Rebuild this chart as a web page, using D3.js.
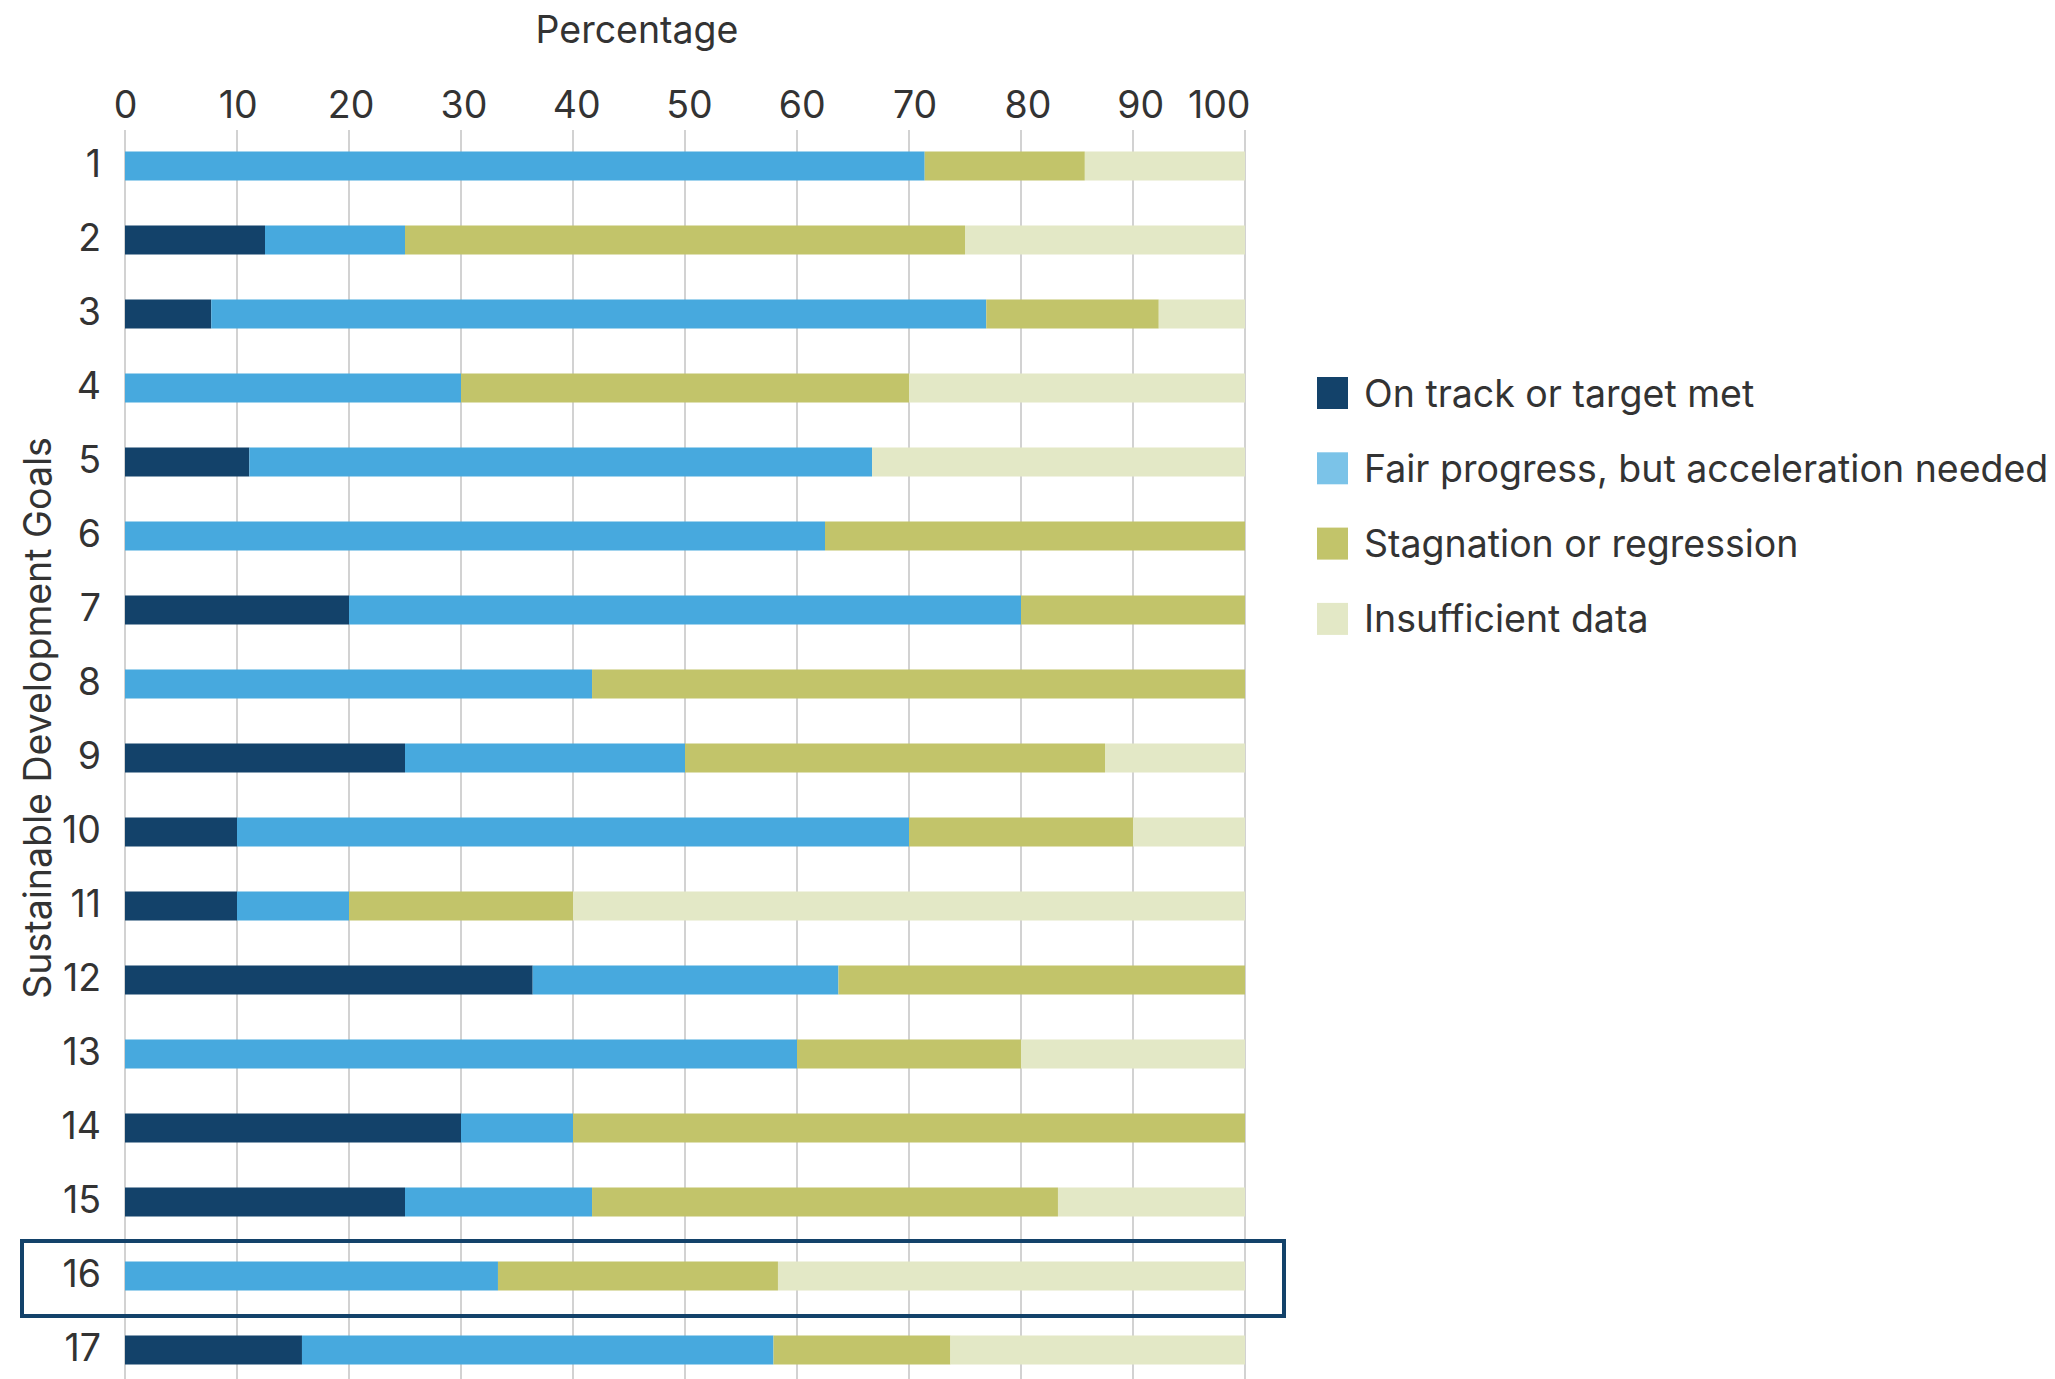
<!DOCTYPE html>
<html><head><meta charset="utf-8">
<script src="https://cdn.jsdelivr.net/npm/d3@7"></script>
<style>body{margin:0;background:#fff;} svg{display:block;} text{font-family:Inter, "Noto Sans", sans-serif;}</style>
</head><body>
<svg id="chart" width="2055" height="1379"></svg>
<script>
const goals = ["1","2","3","4","5","6","7","8","9","10","11","12","13","14","15","16","17"];
const seriesNames = ["On track or target met","Fair progress, but acceleration needed","Stagnation or regression","Insufficient data"];
const onTrack      = [0,12.5,7.7,0,11.1,0,20,0,25,10,10,36.4,0,30,25,0,15.8];
const fairProgress = [71.4,12.5,69.2,30,55.6,62.5,60,41.7,25,60,10,27.3,60,10,16.7,33.3,42.1];
const stagnation   = [14.3,50,15.4,40,0,37.5,20,58.3,37.5,20,20,36.3,20,60,41.6,25,15.8];
const insufficient = [14.3,25,7.7,30,33.3,0,0,0,12.5,10,60,0,20,0,16.7,41.7,26.3];
const xTicks = [0,10,20,30,40,50,60,70,80,90,100];
const highlighted = "16";

const barColors = ["#13426a","#47a9de","#c2c46a","#e3e8c6"];
const legendColors = ["#13426a","#7bc3e8","#c2c46a","#e3e8c6"];
const FS = 37.5;

const svg = d3.select("#chart");
const x = d3.scaleLinear().domain([0,100]).range([125,1245]);
const y = d3.scalePoint().domain(goals).range([166,1350]);
const barH = 29;

// grid
svg.append("g").selectAll("line").data(xTicks).join("line")
  .attr("x1", d=>x(d)).attr("x2", d=>x(d))
  .attr("y1", 130).attr("y2", 1379)
  .attr("stroke", "#d2d2d2").attr("stroke-width", 2);

// top axis labels
const axis = svg.append("g").attr("transform","translate(0,118)")
  .call(d3.axisTop(x).tickValues(xTicks).tickSize(0).tickPadding(0));
axis.select(".domain").remove();
axis.selectAll("text").attr("font-size", FS).attr("fill","#333").attr("font-family","Inter, sans-serif")
  .attr("dx", d => d === 100 ? 5 : d*0.08)
  .attr("text-anchor", d => d === 100 ? "end" : "middle");

svg.append("text").attr("x", 637).attr("y", 43).attr("text-anchor","middle")
  .attr("font-size", FS).attr("fill","#333").text("Percentage");

// stacked data
const rows = goals.map((g,i)=>({goal:g, vals:[onTrack[i],fairProgress[i],stagnation[i],insufficient[i]]}));
const stackData = rows.map(r=>{const o={goal:r.goal}; seriesNames.forEach((s,k)=>o[s]=r.vals[k]); return o;});
const stack = d3.stack().keys(seriesNames)(stackData);

svg.append("g").selectAll("g").data(stack).join("g")
  .attr("fill", (d,i)=>barColors[i])
  .selectAll("rect").data(d=>d).join("rect")
  .attr("x", d=>x(d[0]))
  .attr("width", d=>Math.max(0, x(Math.min(d[1],100))-x(d[0])))
  .attr("y", d=>y(d.data.goal)-barH/2)
  .attr("height", barH);

// y labels
const yAxis = svg.append("g").attr("transform","translate(101,0)")
  .call(d3.axisLeft(y).tickSize(0).tickPadding(0));
yAxis.select(".domain").remove();
yAxis.selectAll("text").attr("font-size", FS).attr("fill","#333").attr("font-family","Inter, sans-serif").attr("dy","0.28em");

svg.append("text").attr("transform","translate(51,718) rotate(-90)")
  .attr("text-anchor","middle").attr("font-size", FS).attr("fill","#333")
  .text("Sustainable Development Goals");

// highlight box
svg.append("rect").attr("x",22).attr("y", y(highlighted)-35).attr("width",1262).attr("height",75)
  .attr("fill","none").attr("stroke","#13426a").attr("stroke-width",4);

// legend
const lg = svg.append("g");
const items = lg.selectAll("g").data(seriesNames).join("g")
  .attr("transform",(d,i)=>`translate(1317,${393 + i*75.3})`);
items.append("rect").attr("x",0).attr("y",-16).attr("width",31).attr("height",32).attr("fill",(d,i)=>legendColors[i]);
items.append("text").attr("x",47).attr("y",0).attr("dy","0.36em").attr("font-size",FS).attr("fill","#333").text(d=>d);
</script>
</body></html>
